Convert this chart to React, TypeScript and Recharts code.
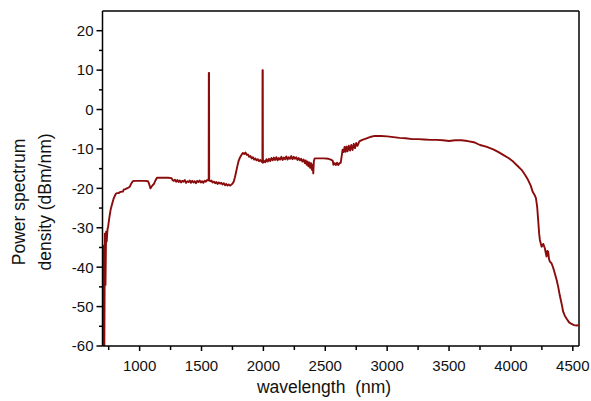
import React from 'react';
import { LineChart, Line, XAxis, YAxis, ReferenceLine } from 'recharts';

const wavelength: number[] = [
  700, 703, 707, 711, 715, 719, 724, 729, 734, 740, 746, 755, 765, 775, 790, 805, 815, 830, 845, 865,
  872, 885, 905, 920, 930, 945, 960, 1000, 1040, 1068, 1078, 1088, 1096, 1105, 1115, 1128, 1140, 1170, 1200, 1230,
  1258, 1266, 1275, 1285, 1295, 1305, 1315, 1325, 1335, 1345, 1355, 1365, 1375, 1385, 1395, 1405, 1415, 1425, 1435, 1445,
  1455, 1465, 1475, 1485, 1495, 1505, 1515, 1525, 1535, 1545, 1554, 1558, 1559, 1561, 1562, 1570, 1580, 1590, 1600, 1610,
  1620, 1630, 1640, 1650, 1660, 1670, 1680, 1690, 1700, 1710, 1720, 1730, 1740, 1750, 1760, 1770, 1780, 1790, 1800, 1812,
  1825, 1835, 1845, 1855, 1865, 1875, 1885, 1895, 1905, 1915, 1925, 1935, 1945, 1955, 1965, 1975, 1985, 1992, 1993, 1995,
  1996, 2005, 2015, 2025, 2035, 2045, 2055, 2065, 2075, 2085, 2095, 2105, 2115, 2125, 2135, 2145, 2155, 2165, 2175, 2185,
  2195, 2205, 2215, 2225, 2235, 2245, 2255, 2265, 2275, 2285, 2295, 2305, 2315, 2325, 2335, 2342, 2350, 2357, 2364, 2371,
  2378, 2385, 2392, 2398, 2403, 2408, 2415, 2450, 2490, 2525, 2545, 2560, 2566, 2575, 2585, 2595, 2605, 2615, 2625, 2640,
  2648, 2656, 2664, 2672, 2680, 2690, 2700, 2710, 2720, 2730, 2740, 2750, 2760, 2775, 2800, 2834, 2870, 2900, 2950, 3000,
  3050, 3100, 3150, 3200, 3250, 3300, 3350, 3400, 3450, 3500, 3550, 3600, 3650, 3700, 3750, 3800, 3857, 3900, 3937, 3980,
  4018, 4050, 4086, 4115, 4139, 4160, 4175, 4190, 4202, 4212, 4220, 4228, 4234, 4248, 4261, 4274, 4282, 4288, 4294, 4301,
  4308, 4315, 4328, 4342, 4355, 4370, 4382, 4395, 4409, 4422, 4435, 4449, 4470, 4490, 4510, 4530, 4550,
];

const power: number[] = [
  -60, -34.5, -60, -35, -60, -31.5, -44.5, -31, -33.5, -30.5, -29.6, -27.5, -25.5, -24.3, -22.6, -21.5, -21.2, -21.2, -20.9, -20.8,
  -20.3, -20.2, -19.9, -19.6, -18.9, -18.2, -18.1, -18.1, -18.1, -18.2, -19.0, -20.0, -19.6, -19.2, -18.9, -18.0, -17.3, -17.3, -17.3, -17.3,
  -17.4, -17.9, -18.1, -17.8, -18.3, -17.9, -18.4, -18.0, -18.5, -18.1, -18.3, -17.9, -18.6, -18.2, -18.4, -18.0, -18.6, -18.1, -18.5, -18.2,
  -18.7, -18.1, -18.4, -18.0, -18.5, -18.2, -18.6, -18.1, -18.3, -17.9, -18.0, -17.8, 9.3, 9.3, -17.9, -18.2, -18.0, -18.5, -18.3, -18.7,
  -18.4, -18.9, -18.5, -18.8, -18.6, -19.0, -18.7, -19.2, -18.9, -19.3, -19.0, -19.3, -19.1, -18.8, -18.3, -17.2, -15.8, -14.3, -13.0, -12.1,
  -11.4, -11.0, -11.3, -10.9, -11.5, -11.4, -12.0, -11.8, -12.4, -12.1, -12.7, -12.4, -12.9, -12.6, -13.1, -12.8, -13.2, -13.4, 10.0, 10.0,
  -13.5, -13.0, -13.4, -12.6, -13.2, -12.5, -13.1, -12.3, -12.9, -12.2, -12.8, -12.1, -12.9, -12.3, -12.7, -12.0, -12.8, -12.2, -12.6, -11.9,
  -12.7, -12.1, -12.5, -11.8, -12.6, -12.0, -12.5, -12.1, -12.8, -12.3, -12.9, -12.5, -13.2, -12.7, -13.6, -12.9, -14.0, -13.2, -14.4, -13.4,
  -14.8, -13.6, -15.3, -14.0, -16.2, -13.0, -12.4, -12.4, -12.4, -12.5, -12.7, -13.0, -14.0, -13.6, -14.1, -13.5, -14.1, -13.6, -13.5, -10.2,
  -10.8, -9.5, -10.7, -9.4, -10.6, -9.2, -10.4, -9.0, -10.3, -8.7, -9.8, -8.5, -9.2, -8.1, -7.7, -7.3, -6.9, -6.7, -6.7, -6.8,
  -7.0, -7.2, -7.3, -7.5, -7.5, -7.6, -7.7, -7.7, -7.8, -8.0, -7.8, -7.8, -8.0, -8.3, -9.0, -9.4, -10.1, -10.8, -11.5, -12.3,
  -13.2, -14.2, -15.3, -16.6, -17.9, -19.3, -20.8, -21.6, -22.5, -24.7, -28.0, -31.5, -33.1, -34.8, -34.1, -35.2, -36.5, -37.3, -35.9, -36.1,
  -38.0, -38.6, -39.0, -40.2, -41.6, -43.3, -45.0, -47.2, -49.2, -51.3, -52.3, -53.0, -54.0, -54.4, -54.7, -54.8, -54.7,
];

const xMajorTicks: number[] = [1000, 1500, 2000, 2500, 3000, 3500, 4000, 4500];
const xMinorTicks: number[] = [750, 1250, 1750, 2250, 2750, 3250, 3750, 4250];
const yMajorTicks: number[] = [-60, -50, -40, -30, -20, -10, 0, 10, 20];
const yMinorTicks: number[] = [-55, -45, -35, -25, -15, -5, 5, 15];

const xTitle = 'wavelength  (nm)';
const yTitleLines: string[] = ['Power spectrum', 'density (dBm/nm)'];

const data = wavelength.map((w, i) => ({ w, p: power[i] }));
const xTicks = [...xMajorTicks, ...xMinorTicks].sort((a, b) => a - b);
const yTicks = [...yMajorTicks, ...yMinorTicks].sort((a, b) => a - b);

const FONT = "Arial, 'Liberation Sans', sans-serif";
const X_TICK_SIZE = 5;
const X_TICK_MARGIN = 9;
const Y_TICK_SIZE = 6;
const Y_TICK_MARGIN = 3;
const LINE_COLOR = '#8a0c0c';

const XTick = (props: any) => {
  const { x, y, payload } = props;
  const v = payload.value;
  const major = xMajorTicks.includes(v);
  const axisY = y - X_TICK_SIZE - X_TICK_MARGIN;
  return (
    <g>
      <line x1={x} x2={x} y1={axisY} y2={axisY + (major ? 5 : 4)} stroke="#000" strokeWidth={1.5} />
      {major && (
        <text x={x} y={y} dy="0.71em" textAnchor="middle" fontSize={15} fill="#111" fontFamily={FONT}>
          {v}
        </text>
      )}
    </g>
  );
};

const YTick = (props: any) => {
  const { x, y, payload } = props;
  const v = payload.value;
  const major = yMajorTicks.includes(v);
  const axisX = x + Y_TICK_SIZE + Y_TICK_MARGIN;
  return (
    <g>
      <line x1={axisX - (major ? 6 : 3.5)} x2={axisX} y1={y} y2={y} stroke="#000" strokeWidth={1.5} />
      {major && (
        <text x={x} y={y} dy="0.355em" textAnchor="end" fontSize={15} fill="#111" fontFamily={FONT}>
          {v}
        </text>
      )}
    </g>
  );
};

const YTitle = () => (
  <g>
    {yTitleLines.map((t, i) => (
      <text
        key={i}
        x={0}
        y={0}
        transform={`translate(${25 + i * 25.5}, 202) rotate(-90)`}
        textAnchor="middle"
        fontSize={17.5}
        fill="#111"
        fontFamily={FONT}
      >
        {t}
      </text>
    ))}
  </g>
);

const XTitle = () => (
  <text
    x={324}
    y={393}
    textAnchor="middle"
    fontSize={17.5}
    fill="#111"
    fontFamily={FONT}
    xmlSpace="preserve"
    style={{ whiteSpace: 'pre' }}
  >
    {xTitle}
  </text>
);

export default function App() {
  return (
    <div style={{ position: 'absolute', left: 0, top: 0, width: 591, height: 401, background: '#fff' }}>
      <LineChart width={591} height={401} data={data} margin={{ top: 11, right: 12, bottom: 25, left: 42.5 }}>
        <XAxis
          dataKey="w"
          type="number"
          domain={[700, 4550]}
          allowDataOverflow
          ticks={xTicks}
          interval={0}
          tick={<XTick />}
          tickLine={false}
          tickSize={X_TICK_SIZE}
          tickMargin={X_TICK_MARGIN}
          axisLine={{ stroke: '#000', strokeWidth: 1.5 }}
          height={30}
          label={<XTitle />}
        />
        <YAxis
          type="number"
          domain={[-60, 25]}
          allowDataOverflow
          ticks={yTicks}
          interval={0}
          tick={<YTick />}
          tickLine={false}
          tickSize={Y_TICK_SIZE}
          tickMargin={Y_TICK_MARGIN}
          axisLine={{ stroke: '#000', strokeWidth: 1.5 }}
          width={60}
          label={<YTitle />}
        />
        <ReferenceLine y={25} stroke="#000" strokeWidth={1.5} />
        <ReferenceLine x={4550} stroke="#000" strokeWidth={1.5} />
        <Line
          type="linear"
          dataKey="p"
          stroke={LINE_COLOR}
          strokeWidth={1.9}
          strokeLinejoin="round"
          dot={false}
          activeDot={false}
          isAnimationActive={false}
        />
      </LineChart>
    </div>
  );
}
